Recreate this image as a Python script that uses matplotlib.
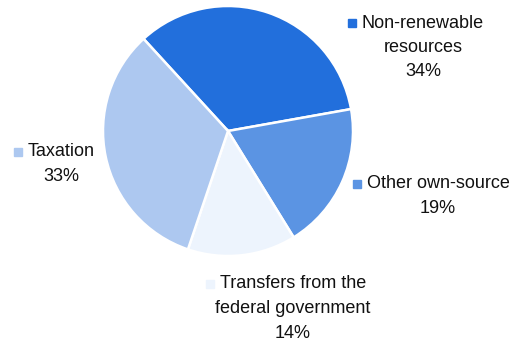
import matplotlib
matplotlib.use("Agg")
import matplotlib.pyplot as plt

plt.rcParams['font.family'] = ['Liberation Sans', 'DejaVu Sans']

categories = ["Non-renewable\nresources", "Other own-source",
              "Transfers from the\nfederal government", "Taxation"]
shares = [34, 19, 14, 33]
colors = ["#226fdc", "#5b94e3", "#edf4fd", "#adc8f0"]

# label block centre (x) and first-line centre (y), in pixel-like units
label_pos = [(423, 320), (438, 159), (293, 59), (61, 191)]

W, H = 512, 343
fig = plt.figure(figsize=(W / 100, H / 100), dpi=100)
ax = fig.add_axes([0, 0, 1, 1])

ax.pie(shares, colors=colors, startangle=132.5, counterclock=False,
       center=(228, 212), radius=125,
       wedgeprops=dict(edgecolor="white", linewidth=1.8))
ax.set_xlim(0, W)
ax.set_ylim(0, H)
ax.set_aspect("equal")
ax.axis("off")

fig.canvas.draw()
renderer = fig.canvas.get_renderer()
inv = ax.transData.inverted()
for cat, val, col, (x, y) in zip(categories, shares, colors, label_pos):
    lines = cat.split("\n") + [f"{val}%"]
    step = 24.5
    first = None
    for i, line in enumerate(lines):
        t = ax.text(x, y - i * step, line, ha="center", va="center",
                    fontsize=13, color="#111111")
        if first is None:
            first = t
    bb = first.get_window_extent(renderer=renderer)
    x0 = inv.transform((bb.x0, bb.y0))[0]
    ax.plot([x0 - 10], [y], marker="s", markersize=5.5, color=col,
            linestyle="none")

fig.savefig("out.png", dpi=100)
